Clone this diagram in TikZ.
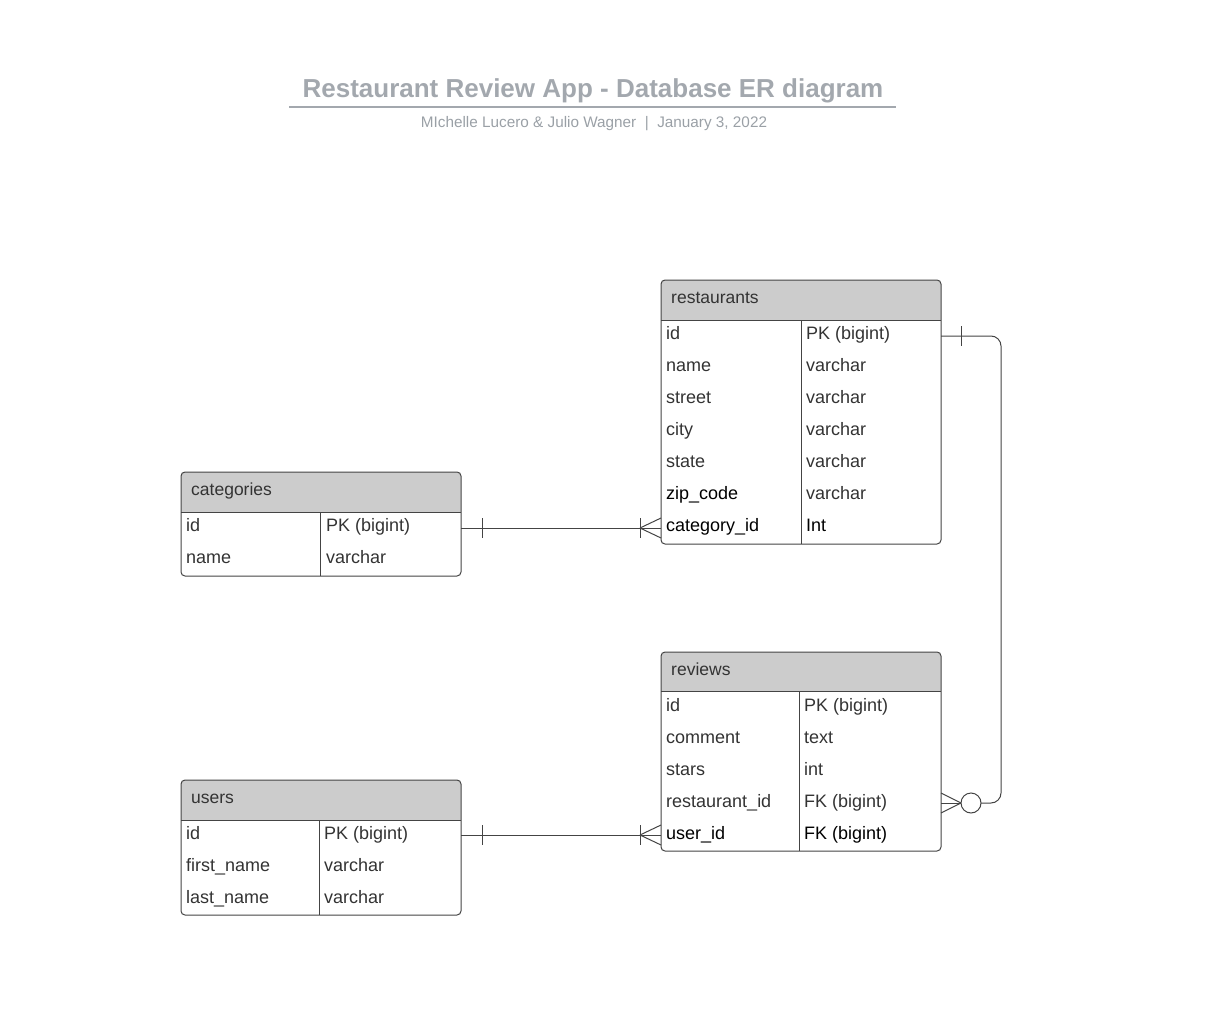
\documentclass[tikz,border=0pt]{standalone}
\usepackage{fontspec}
\setmainfont{Liberation Sans}
\definecolor{ttl}{HTML}{A3A8AE}
\definecolor{sub}{HTML}{9AA0A6}
\definecolor{hdr}{HTML}{CCCCCC}
\definecolor{edge}{HTML}{444444}
\definecolor{txt}{HTML}{333333}
\tikzset{
  tbl/.style={draw=edge, line width=1pt},
  rel/.style={draw=edge, line width=1pt},
  rowtxt/.style={anchor=base west, inner sep=0pt, font=\fontsize{18}{20}\selectfont, text=txt},
  rowblk/.style={rowtxt, text=black},
  hdrtxt/.style={anchor=base west, inner sep=0pt, font=\fontsize{17.5}{20}\selectfont, text=txt},
}
% #1 x0, #2 y0, #3 x1, #4 header bottom, #5 bottom, #6 divider x
\newcommand\ertabshape[6]{%
  \begin{scope}
    \clip[rounded corners=4pt] (#1,#2) rectangle (#3,#5);
    \fill[hdr] (#1,#2) rectangle (#3,#4);
  \end{scope}
  \draw[tbl] (#1,#4) -- (#3,#4);
  \draw[tbl] (#6,#4) -- (#6,#5);
  \draw[tbl, rounded corners=4pt] (#1,#2) rectangle (#3,#5);
}
\begin{document}
\begin{tikzpicture}[x=1pt,y=-1pt]
\useasboundingbox (0,0) rectangle (1232,1030);

% Title
\node[anchor=base, inner sep=0pt, text=ttl, font=\fontsize{26}{30}\selectfont\bfseries] (title) at (593,98) {Restaurant Review App - Database ER diagram};
\draw[ttl, line width=2pt] (289,107) -- (896,107);
\node[anchor=base, inner sep=0pt, text=sub, font=\fontsize{15.3}{18}\selectfont] (subtitle) at (594,128) {MIchelle Lucero \& Julio Wagner\ \ |\ \ January 3, 2022};

% restaurants
\ertabshape{661}{280}{941}{320}{544}{801}
\node[hdrtxt] (rest) at (671,303) {restaurants};
\node[rowtxt] (rest-id) at (666,339) {id};           \node[rowtxt] (rest-idt) at (806,339) {PK (bigint)};
\node[rowtxt] (rest-name) at (666,371) {name};       \node[rowtxt] (rest-namet) at (806,371) {varchar};
\node[rowtxt] (rest-street) at (666,403) {street};   \node[rowtxt] (rest-streett) at (806,403) {varchar};
\node[rowtxt] (rest-city) at (666,435) {city};       \node[rowtxt] (rest-cityt) at (806,435) {varchar};
\node[rowtxt] (rest-state) at (666,467) {state};     \node[rowtxt] (rest-statet) at (806,467) {varchar};
\node[rowblk] (rest-zip) at (666,499) {zip\_code};   \node[rowtxt] (rest-zipt) at (806,499) {varchar};
\node[rowblk] (rest-cat) at (666,531) {category\_id};\node[rowblk] (rest-catt) at (806,531) {Int};

% categories
\ertabshape{181}{472}{461}{512}{576}{320}
\node[hdrtxt] (cat) at (191,495) {categories};
\node[rowtxt] (cat-id) at (186,531) {id};            \node[rowtxt] (cat-idt) at (326,531) {PK (bigint)};
\node[rowtxt] (cat-name) at (186,563) {name};        \node[rowtxt] (cat-namet) at (326,563) {varchar};

% reviews
\ertabshape{661}{652}{941}{691}{851}{799}
\node[hdrtxt] (rev) at (671,675) {reviews};
\node[rowtxt] (rev-id) at (666,711) {id};                 \node[rowtxt] (rev-idt) at (804,711) {PK (bigint)};
\node[rowtxt] (rev-comment) at (666,743) {comment};       \node[rowtxt] (rev-commentt) at (804,743) {text};
\node[rowtxt] (rev-stars) at (666,775) {stars};           \node[rowtxt] (rev-starst) at (804,775) {int};
\node[rowtxt] (rev-rid) at (666,807) {restaurant\_id};    \node[rowtxt] (rev-ridt) at (804,807) {FK (bigint)};
\node[rowblk] (rev-uid) at (666,839) {user\_id};          \node[rowblk] (rev-uidt) at (804,839) {FK (bigint)};

% users
\ertabshape{181}{780}{461}{820}{915}{319}
\node[hdrtxt] (usr) at (191,803) {users};
\node[rowtxt] (usr-id) at (186,839) {id};                 \node[rowtxt] (usr-idt) at (324,839) {PK (bigint)};
\node[rowtxt] (usr-first) at (186,871) {first\_name};     \node[rowtxt] (usr-firstt) at (324,871) {varchar};
\node[rowtxt] (usr-last) at (186,903) {last\_name};       \node[rowtxt] (usr-lastt) at (324,903) {varchar};

% connector end points
\coordinate (c1a) at (461,528);  \coordinate (c1b) at (661,528);
\coordinate (c2a) at (461,835);  \coordinate (c2b) at (661,835);
\coordinate (c3a) at (941,336);  \coordinate (c3b) at (981,803);
\coordinate (c3c) at (941,803);

% categories.id -> restaurants.category_id
\draw[rel] (c1a) -- (c1b);
\draw[rel] ([xshift=21pt]c1a) ++(0,-10) -- ++(0,20);
\draw[rel] ([xshift=-21pt]c1b) ++(0,-10) -- ++(0,20);
\draw[rel] ([xshift=-21pt]c1b) -- ++(21,-10);
\draw[rel] ([xshift=-21pt]c1b) -- ++(21,10);

% users.id -> reviews.user_id
\draw[rel] (c2a) -- (c2b);
\draw[rel] ([xshift=21pt]c2a) ++(0,-10) -- ++(0,20);
\draw[rel] ([xshift=-21pt]c2b) ++(0,-10) -- ++(0,20);
\draw[rel] ([xshift=-21pt]c2b) -- ++(21,-10);
\draw[rel] ([xshift=-21pt]c2b) -- ++(21,10);

% restaurants.id -> reviews.restaurant_id
\draw[rel, rounded corners=10pt] (c3a) -- (1001,336) -- (1001,803) -- (c3b);
\draw[rel] ([xshift=20pt]c3a) ++(0,-10) -- ++(0,20);
\draw[rel] (971,803) circle[radius=10pt];
\draw[rel] (961,803) -- (c3c);
\draw[rel] (961,803) -- ++(-20,-10);
\draw[rel] (961,803) -- ++(-20,10);
\end{tikzpicture}
\end{document}
